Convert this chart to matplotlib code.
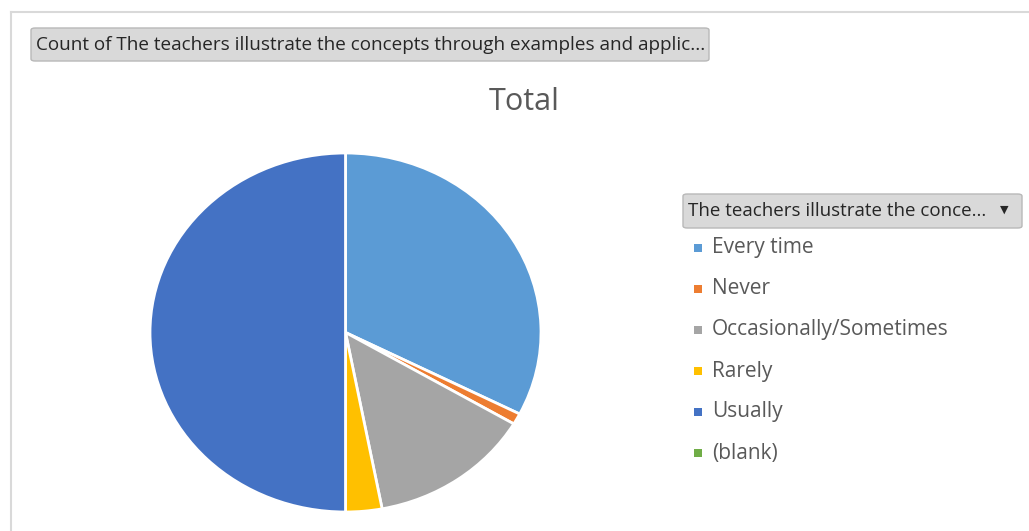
import matplotlib.pyplot as plt
from matplotlib.patches import FancyBboxPatch, Rectangle
from matplotlib.lines import Line2D

categories = ["Every time", "Never", "Occasionally/Sometimes", "Rarely", "Usually", "(blank)"]
counts = [65, 2, 27, 6, 100, 0]
colors = ["#5B9BD5", "#ED7D31", "#A5A5A5", "#FFC000", "#4472C4", "#70AD47"]

W, H = 1029, 531
fig = plt.figure(figsize=(W / 100, H / 100), dpi=100)
fig.patch.set_facecolor("white")

plt.rcParams['font.family'] = ['Open Sans', 'DejaVu Sans']


def fx(x):
    return x / W


def fy(y):
    return 1 - y / H


# outer frame of the chart area
fig.add_artist(Line2D([fx(11), fx(11)], [fy(12), 0], color="#d9d9d9", lw=1.5))
fig.add_artist(Line2D([fx(11), 1], [fy(12), fy(12)], color="#d9d9d9", lw=1.5))

# pie (slightly squashed, as in the screenshot)
left, right, top, bottom = 150, 541, 153, 512
ax = fig.add_axes([fx(left), fy(bottom), (right - left) / W, (bottom - top) / H])
vals = [c for c in counts if c > 0]
cols = [colors[i] for i, c in enumerate(counts) if c > 0]
ax.pie(vals, colors=cols, startangle=90, counterclock=False,
       wedgeprops=dict(edgecolor="white", linewidth=2))
ax.set_aspect('auto')
ax.set_xlim(-1, 1)
ax.set_ylim(-1, 1)
ax.axis('off')

# field button at top
btn = FancyBboxPatch((fx(31), fy(61)), fx(709 - 31), (61 - 28) / H,
                     boxstyle="round,pad=0,rounding_size=0.004",
                     transform=fig.transFigure, facecolor="#d9d9d9",
                     edgecolor="#b8b8b8", lw=1)
fig.add_artist(btn)
fig.text(fx(36), fy(45), "Count of The teachers illustrate the concepts through examples and applic...",
         fontsize=13.6, color="#262626", va="center", ha="left")

# title
fig.text(fx(524), fy(102), "Total", fontsize=22, color="#595959", ha="center", va="center")

# legend field button
lbtn = FancyBboxPatch((fx(683), fy(228)), fx(1022 - 683), (228 - 194) / H,
                      boxstyle="round,pad=0,rounding_size=0.004",
                      transform=fig.transFigure, facecolor="#d9d9d9",
                      edgecolor="#b8b8b8", lw=1)
fig.add_artist(lbtn)
fig.text(fx(688), fy(211), "The teachers illustrate the conce...",
         fontsize=13.5, color="#262626", va="center", ha="left")
fig.text(fx(1004), fy(210), "\u25BC", fontsize=8, color="#262626", va="center", ha="center")

# legend entries
for i, (cat, col) in enumerate(zip(categories, colors)):
    y = 248 + i * 41
    fig.add_artist(Rectangle((fx(694), fy(y + 4)), fx(8), 8 / H,
                             transform=fig.transFigure, facecolor=col, edgecolor="none"))
    fig.text(fx(712), fy(y), cat, fontsize=15, color="#595959", va="center", ha="left")

fig.savefig("out.png", dpi=100)
